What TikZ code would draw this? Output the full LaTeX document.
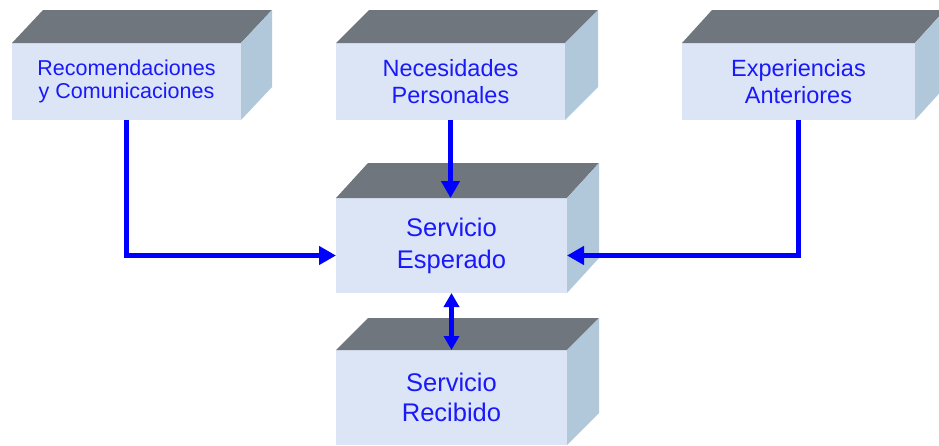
\documentclass[tikz,border=0pt]{standalone}
\usepackage{fontspec}
\setmainfont{Liberation Sans}
\usetikzlibrary{arrows.meta}
\definecolor{frontc}{RGB}{220,229,246}
\definecolor{sidec}{RGB}{176,200,218}
\definecolor{topc}{RGB}{112,118,126}
\definecolor{txtc}{RGB}{25,25,250}
\definecolor{arrc}{RGB}{0,0,255}
\newcommand\mycube[3]{%
  \fill[topc] (#1.north west) -- ([shift={(#2,-#3)}]#1.north west) -- ([shift={(#2,-#3)}]#1.north east) -- (#1.north east) -- cycle;
  \fill[sidec] (#1.north east) -- ([shift={(#2,-#3)}]#1.north east) -- ([shift={(#2,-#3)}]#1.south east) -- (#1.south east) -- cycle;
}
\tikzset{
  face/.style={fill=frontc, draw=none, inner sep=0pt, outer sep=0pt, anchor=north west, align=center, text=txtc},
  conn/.style={draw=arrc, line width=4.5pt, -{Triangle[length=17pt,width=18pt]}},
  dconn/.style={draw=arrc, line width=4.5pt, {Triangle[length=14pt,width=15pt]}-{Triangle[length=14pt,width=15pt]}}
}
\begin{document}
\begin{tikzpicture}[x=1pt,y=-1pt]
\useasboundingbox (0,0) rectangle (939,445);
\begin{scope}
\clip (0,0) rectangle (939,445);
\node[face, minimum width=229pt, minimum height=77pt, font=\fontsize{21.5}{23.5}\selectfont] (b1) at (12,43) {Recomendaciones\\y Comunicaciones};
\mycube{b1}{31}{33}
\node[face, minimum width=229pt, minimum height=77pt, font=\fontsize{23.5}{27}\selectfont] (b2) at (336,43) {Necesidades\\Personales};
\mycube{b2}{33}{33}
\node[face, minimum width=233pt, minimum height=77pt, font=\fontsize{23.5}{27}\selectfont] (b3) at (682,43) {Experiencias\\Anteriores};
\mycube{b3}{30}{33}
\node[face, minimum width=231pt, minimum height=95pt, font=\fontsize{25.5}{32}\selectfont] (esp) at (336,198) {Servicio\\Esperado};
\mycube{esp}{32}{35}
\node[face, minimum width=231pt, minimum height=95pt, font=\fontsize{25.5}{30}\selectfont] (rec) at (336,350) {Servicio\\Recibido};
\mycube{rec}{32}{32}
\draw[conn] (b1.south) |- ([yshift=-10pt]esp.west);
\draw[conn] (b3.south) |- ([yshift=-10pt]esp.east);
\draw[conn] (b2.south) -- (b2.south |- esp.north);
\draw[dconn] (esp.south) -- (rec.north);
\end{scope}
\end{tikzpicture}
\end{document}
